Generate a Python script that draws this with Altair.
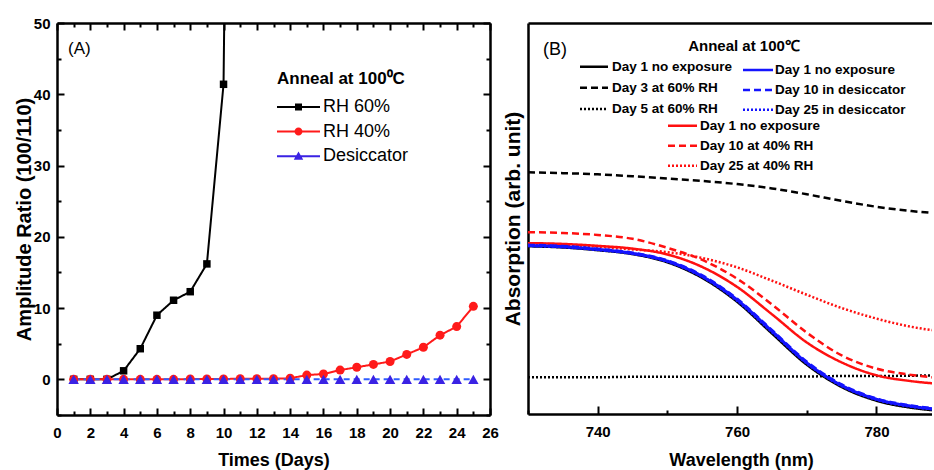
import altair as alt
import pandas as pd

FONT = "Liberation Sans"

# ---------------- Panel (A) data ----------------
series_a = ["RH 60%", "RH 40%", "Desiccator"]
line_colors_a = ["#000000", "#ff1a1a", "#2f5cff"]
line_dashes_a = [[1, 0], [1, 0], [6, 4]]
marker_colors_a = ["#000000", "#ff1a1a", "#3a22e4"]
marker_shapes_a = ["square", "circle", "triangle-up"]
marker_sizes_a = [56, 81, 110]

days_rh60 = [1, 2, 3, 4, 5, 6, 7, 8, 9, 10, 11]
ratio_rh60 = [0.0, 0.0, 0.0, 1.2, 4.3, 9.0, 11.1, 12.3, 16.2, 41.4, 250.0]

days_25 = [1, 2, 3, 4, 5, 6, 7, 8, 9, 10, 11, 12, 13, 14, 15, 16, 17, 18, 19, 20, 21, 22, 23, 24, 25]
ratio_rh40 = [0.0, 0.0, 0.0, 0.0, 0.0, 0.0, 0.0, 0.05, 0.05, 0.05, 0.1, 0.1, 0.1,
              0.15, 0.6, 0.75, 1.3, 1.7, 2.1, 2.5, 3.5, 4.5, 6.2, 7.4, 10.25]
ratio_desiccator = [0.0, 0.0, 0.0, 0.0, 0.0, 0.0, 0.0, 0.0, 0.0, 0.0, 0.0, 0.0, 0.0,
                    0.0, 0.0, 0.0, 0.0, 0.0, 0.0, 0.0, 0.0, 0.0, 0.0, 0.0, 0.0]

x_ticks_a = [0, 1, 2, 3, 4, 5, 6, 7, 8, 9, 10, 11, 12, 13, 14, 15, 16, 17, 18, 19, 20, 21, 22, 23, 24, 25, 26]
y_ticks_a = [-5, 0, 5, 10, 15, 20, 25, 30, 35, 40, 45, 50]

# legend symbols: line segment + marker (custom SVG paths)
legend_paths_a = [
    "M-1.8,-0.2H6.8V0.2H-1.8Z M1.8,-0.7H3.2V0.7H1.8Z",
    "M-1.8,-0.2H6.8V0.2H-1.8Z M3.3,0A0.8,0.8 0 1,1 1.7,0A0.8,0.8 0 1,1 3.3,0Z",
    "M-1.8,-0.2H6.8V0.2H-1.8Z M2.5,-0.95L3.45,0.7L1.55,0.7Z",
]

rows_a = []
for d, v in zip(days_rh60, ratio_rh60):
    rows_a.append({"series": "RH 60%", "day": d, "ratio": v})
for d, v in zip(days_25, ratio_rh40):
    rows_a.append({"series": "RH 40%", "day": d, "ratio": v})
for d, v in zip(days_25, ratio_desiccator):
    rows_a.append({"series": "Desiccator", "day": d, "ratio": v})
df_a = pd.DataFrame(rows_a)

# ---------------- Panel (B) data ----------------
wavelength = [730, 735, 740, 745, 750, 755, 760, 765, 770, 775, 780, 785, 790]

black_day1 = [0.429, 0.426, 0.419, 0.409, 0.388, 0.348, 0.287, 0.206, 0.126, 0.069, 0.034, 0.016, 0.007]
black_day3 = [0.618, 0.616, 0.613, 0.608, 0.602, 0.596, 0.588, 0.577, 0.562, 0.545, 0.530, 0.519, 0.512]
black_day5 = [0.094, 0.094, 0.094, 0.095, 0.095, 0.095, 0.095, 0.096, 0.096, 0.097, 0.097, 0.098, 0.099]
blue_day1 = [0.431, 0.428, 0.421, 0.411, 0.391, 0.352, 0.292, 0.212, 0.131, 0.073, 0.038, 0.020, 0.010]
blue_day10 = [0.432, 0.429, 0.422, 0.412, 0.392, 0.354, 0.294, 0.214, 0.133, 0.075, 0.039, 0.021, 0.011]
blue_day25 = [0.430, 0.427, 0.420, 0.410, 0.390, 0.351, 0.290, 0.210, 0.130, 0.072, 0.037, 0.019, 0.010]
red_day1 = [0.437, 0.435, 0.430, 0.423, 0.408, 0.376, 0.325, 0.255, 0.183, 0.132, 0.099, 0.084, 0.076]
red_day10 = [0.465, 0.463, 0.458, 0.448, 0.425, 0.394, 0.346, 0.280, 0.208, 0.150, 0.116, 0.100, 0.091]
red_day25 = [0.436, 0.433, 0.428, 0.421, 0.414, 0.399, 0.375, 0.341, 0.305, 0.271, 0.244, 0.223, 0.210]

black_labels = ["Day 1 no exposure", "Day 3 at 60% RH", "Day 5 at 60% RH"]
blue_labels = ["Day 1 no exposure", "Day 10 in desiccator", "Day 25 in desiccator"]
red_labels = ["Day 1 no exposure", "Day 10 at 40% RH", "Day 25 at 40% RH"]

x_ticks_b = [730, 740, 750, 760, 770, 780]

rows_b = []
for grp, labels, curves in [
    ("black", black_labels, [black_day1, black_day3, black_day5]),
    ("blue", blue_labels, [blue_day1, blue_day10, blue_day25]),
    ("red", red_labels, [red_day1, red_day10, red_day25]),
]:
    for lab, vals in zip(labels, curves):
        for w, v in zip(wavelength, vals):
            rows_b.append({"group": grp, "label": lab, "wl": w, "absorb": v})
df_b = pd.DataFrame(rows_b)

# ---------------- Panel (A) chart ----------------
W_A, H_A = 433, 392
x_scale_a = alt.Scale(domain=[0, 26], nice=False, zero=False)
y_scale_a = alt.Scale(domain=[-5, 50], nice=False, zero=False)
tick_x_a = {"expr": "datum.value % 2 === 0 ? -7 : -4"}
tick_y_a = {"expr": "datum.value % 10 === 0 ? -7 : -4"}

x_axis_a = alt.Axis(orient="bottom", values=x_ticks_a, title="Times (Days)",
                    labelExpr="datum.value % 2 === 0 ? datum.label : ''",
                    tickSize=tick_x_a, labelPadding=17.5, titlePadding=8, titleFontSize=18)
y_axis_a = alt.Axis(orient="left", values=y_ticks_a, title="Amplitude Ratio (100/110)",
                    labelExpr="datum.value % 10 === 0 ? datum.label : ''",
                    tickSize=tick_y_a, labelPadding=14, titlePadding={"expr": "-1"}, titleFontSize=20)

line_layers_a = []
for i, (name, col, dash) in enumerate(zip(series_a, line_colors_a, line_dashes_a)):
    line_layers_a.append(
        alt.Chart(df_a).transform_filter(alt.datum.series == name).mark_line(
            strokeWidth=2, clip=True, color=col, strokeDash=dash
        ).encode(
            x=alt.X("day:Q", scale=x_scale_a, axis=x_axis_a if i == 0 else None),
            y=alt.Y("ratio:Q", scale=y_scale_a, axis=y_axis_a if i == 0 else None),
        )
    )

point_layers_a = []
for name, col, shp, sz in zip(series_a, marker_colors_a, marker_shapes_a, marker_sizes_a):
    point_layers_a.append(
        alt.Chart(df_a).transform_filter(alt.datum.series == name).mark_point(
            filled=True, opacity=1, clip=True, strokeWidth=0, shape=shp, size=sz, color=col
        ).encode(
            x=alt.X("day:Q", scale=x_scale_a, axis=None),
            y=alt.Y("ratio:Q", scale=y_scale_a, axis=None),
        )
    )

legend_a = alt.Legend(
    orient="none", legendX=220, legendY=48, padding=0, offset=0,
    title="Anneal at 100\u2070C", titleFont=FONT, titleFontSize=17, titleFontWeight="bold",
    titleColor="black", titlePadding=10, titleLimit=400,
    labelFont=FONT, labelFontSize=18, labelFontWeight="normal", labelColor="black",
    labelOffset=28, labelLimit=300, rowPadding=6.6,
    symbolSize=100, symbolStrokeWidth=0, symbolOpacity=1,
)

legend_layer_a = alt.Chart(df_a).mark_point(filled=True, opacity=0, clip=True).encode(
    x=alt.X("day:Q", scale=x_scale_a,
            axis=alt.Axis(orient="top", values=x_ticks_a, labels=False, title=None, tickSize=tick_x_a)),
    y=alt.Y("ratio:Q", scale=y_scale_a,
            axis=alt.Axis(orient="right", values=y_ticks_a, labels=False, title=None, tickSize=tick_y_a)),
    color=alt.Color("series:N", scale=alt.Scale(domain=series_a, range=marker_colors_a), legend=legend_a),
    shape=alt.Shape("series:N", scale=alt.Scale(domain=series_a, range=legend_paths_a), legend=legend_a),
)

panel_a = alt.layer(*line_layers_a, *point_layers_a, legend_layer_a).properties(
    width=W_A, height=H_A,
    title=alt.TitleParams("(A)", anchor="start", frame="group", dx=11, offset=-42,
                          font=FONT, fontSize=17, fontWeight="normal", color="black"),
)

# ---------------- Panel (B) chart ----------------
W_B, H_B = 404, 391
x_scale_b = alt.Scale(domain=[730, 730 + W_B / 6.97], nice=False, zero=False)
y_scale_b = alt.Scale(domain=[0, 1], nice=False, zero=False)

dash_solid = [1, 0]
dash_dashed = [7, 4]
dash_dotted = [2, 2]


def legend_b(x, y, path, row_pad, **extra):
    return alt.Legend(
        orient="none", legendX=x, legendY=y, padding=0, offset=0,
        labelFont=FONT, labelFontSize=13.5, labelFontWeight="bold", labelColor="black",
        labelOffset=18.5, labelLimit=300, rowPadding=row_pad,
        symbolSize=100, symbolStrokeWidth=2.5, symbolOpacity=1, symbolType=path,
        **extra,
    )


def b_layer(group, labels, color, width, leg, x_axis, y_axis):
    src = df_b[df_b["group"] == group]
    return alt.Chart(src).mark_line(clip=True, interpolate="monotone", strokeWidth=width).encode(
        x=alt.X("wl:Q", scale=x_scale_b, axis=x_axis),
        y=alt.Y("absorb:Q", scale=y_scale_b, axis=y_axis),
        color=alt.Color("label:N", scale=alt.Scale(domain=labels, range=[color, color, color]), legend=leg),
        strokeDash=alt.StrokeDash("label:N",
                                  scale=alt.Scale(domain=labels, range=[dash_solid, dash_dashed, dash_dotted]),
                                  legend=leg),
    )


leg_black = legend_b(52, 37, "M-1.35,0H4.25", 6.1, title=None)
leg_blue = legend_b(215, 40.25, "M-1.35,0H4.65", 4.9, title=None)
leg_red = legend_b(140, 15.5, "M-1.35,0H4.45", 5.0,
                   title="Anneal at 100\u2103", titleFont=FONT, titleFontSize=15, titleFontWeight="bold",
                   titleColor="black", titleAnchor="middle", titlePadding=65.5, titleLimit=400)

x_axis_b = alt.Axis(orient="bottom", values=x_ticks_b, title="Wavelength (nm)",
                    labelExpr="datum.value % 20 === 0 ? datum.label : ''",
                    tickSize={"expr": "datum.value % 20 === 0 ? -8 : -4"},
                    labelPadding=18.5, titlePadding=8, titleFontSize=18, titleX=213)
y_axis_b = alt.Axis(orient="left", ticks=False, labels=False, domain=True,
                    title="Absorption (arb. unit)", titleFontSize=21, titlePadding=5)
x_top_b = alt.Axis(orient="top", ticks=False, labels=False, domain=True, title=None)

black_b = b_layer("black", black_labels, "#000000", 2.5, leg_black, x_axis_b, y_axis_b)
red_b = b_layer("red", red_labels, "#ff1010", 2.5, leg_red, x_top_b, y_axis_b)
blue_b = b_layer("blue", blue_labels, "#1414ff", 3, leg_blue, None, y_axis_b)

panel_b = alt.layer(black_b, red_b, blue_b).resolve_scale(
    color="independent", strokeDash="independent"
).properties(
    width=W_B, height=H_B,
    title=alt.TitleParams("(B)", anchor="start", frame="group", dx=15, offset=-36,
                          font=FONT, fontSize=18, fontWeight="normal", color="black"),
)

chart = alt.hconcat(panel_a, panel_b, spacing=38, bounds="flush").properties(
    padding={"left": 14, "top": 16, "right": 0, "bottom": 0},
).configure_view(
    stroke=None
).configure_axis(
    grid=False, domainColor="black", domainWidth=2.5, tickColor="black", tickWidth=2,
    labelFont=FONT, labelFontSize=15, labelFontWeight="bold", labelColor="black",
    labelFlush=False, labelOverlap=False, labelBound=False,
    titleFont=FONT, titleFontWeight="bold", titleColor="black",
)

chart.save("out.html", embed_options={"renderer": "svg", "actions": False})
